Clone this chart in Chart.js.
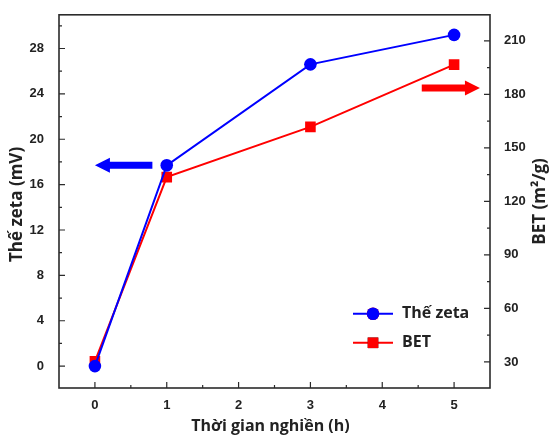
<!DOCTYPE html>
<html>
<head>
<meta charset="utf-8">
<script src="https://cdn.jsdelivr.net/npm/chart.js@4/dist/chart.umd.min.js"></script>
<style>
  html, body { margin: 0; padding: 0; background: #fff; }
  #wrap { width: 554px; height: 436px; position: relative; }
</style>
</head>
<body>
<div id="wrap"><canvas id="zetaChart"></canvas></div>
<script>
// data
const hours = [0, 1, 3, 5];
const zetaValues = [0, 17.7, 26.6, 29.2];
const betValues = [30.4, 133.6, 161.8, 196.7];
const seriesNames = ['Thế zeta', 'BET'];

const xTicks = [0, 1, 2, 3, 4, 5];
const zetaTicks = [0, 4, 8, 12, 16, 20, 24, 28];
const betTicks = [30, 60, 90, 120, 150, 180, 210];

// arrows pointing to the axis of each series (data units)
const zetaArrowX = [0.8, 0.0];
const zetaArrowY = 17.7;
const betArrowX = [4.55, 5.36];
const betArrowY = 183.5;

const BLUE = '#0000ff';
const RED = '#ff0000';
const INK = '#2b2b2b';
const titleFont = 'bold 16px "Open Sans", sans-serif';
const yTitleFont = 'bold 17px "Open Sans", sans-serif';

function drawArrow(ctx, x0, x1, y, color) {
    const s = x1 > x0 ? 1 : -1;
    const hx = x1 - s * 15;
    ctx.beginPath();
    ctx.moveTo(x0, y - 3.5);
    ctx.lineTo(hx, y - 3.5);
    ctx.lineTo(hx, y - 7.5);
    ctx.lineTo(x1, y);
    ctx.lineTo(hx, y + 7.5);
    ctx.lineTo(hx, y + 3.5);
    ctx.lineTo(x0, y + 3.5);
    ctx.closePath();
    ctx.fillStyle = color;
    ctx.fill();
}

const extras = {
    id: 'extras',
    afterDraw(chart) {
        const ctx = chart.ctx;
        const a = chart.chartArea;
        const sx = chart.scales.x, yl = chart.scales.yZeta, yr = chart.scales.yBet;
        ctx.save();

        // frame
        ctx.strokeStyle = INK;
        ctx.lineWidth = 1.6;
        ctx.strokeRect(a.left, a.top, a.right - a.left, a.bottom - a.top);

        // inward ticks, major + minor
        ctx.lineWidth = 1.2;
        ctx.beginPath();
        xTicks.forEach(v => {
            const px = sx.getPixelForValue(v);
            ctx.moveTo(px, a.bottom); ctx.lineTo(px, a.bottom - 6);
            const mx = sx.getPixelForValue(v + 0.5);
            if (v + 0.5 < sx.max) { ctx.moveTo(mx, a.bottom); ctx.lineTo(mx, a.bottom - 3); }
        });
        zetaTicks.forEach(v => {
            const py = yl.getPixelForValue(v);
            ctx.moveTo(a.left, py); ctx.lineTo(a.left + 6, py);
            const my = yl.getPixelForValue(v + 2);
            if (v + 2 < yl.max) { ctx.moveTo(a.left, my); ctx.lineTo(a.left + 3, my); }
        });
        betTicks.forEach(v => {
            const py = yr.getPixelForValue(v);
            ctx.moveTo(a.right, py); ctx.lineTo(a.right - 6, py);
            const my = yr.getPixelForValue(v - 15);
            if (v - 15 > yr.min) { ctx.moveTo(a.right, my); ctx.lineTo(a.right - 3, my); }
        });
        ctx.stroke();

        // arrows
        drawArrow(ctx, sx.getPixelForValue(zetaArrowX[0]), sx.getPixelForValue(zetaArrowX[1]),
                  yl.getPixelForValue(zetaArrowY), BLUE);
        drawArrow(ctx, sx.getPixelForValue(betArrowX[0]), sx.getPixelForValue(betArrowX[1]),
                  yr.getPixelForValue(betArrowY), RED);

        // legend
        const lx = a.right - 137, ly = [a.top + 299, a.top + 328];
        chart.data.datasets.forEach((ds, i) => {
            ctx.strokeStyle = ds.borderColor;
            ctx.lineWidth = 2;
            ctx.beginPath();
            ctx.moveTo(lx, ly[i]); ctx.lineTo(lx + 40, ly[i]);
            ctx.stroke();
            Chart.helpers.drawPoint(ctx, {
                pointStyle: ds.pointStyle, radius: ds.pointRadius, borderWidth: 0
            }, lx + 20, ly[i]);
            ctx.fillStyle = ds.borderColor;
            ctx.fill();
            ctx.fillStyle = '#222';
            ctx.font = titleFont;
            ctx.textAlign = 'left';
            ctx.textBaseline = 'middle';
            ctx.fillText(ds.label, lx + 49, ly[i]);
        });

        // axis titles
        ctx.fillStyle = '#222';
        ctx.font = titleFont;
        ctx.textAlign = 'center';
        ctx.textBaseline = 'middle';
        ctx.fillText('Thời gian nghiền (h)', (a.left + a.right) / 2 - 4, a.bottom + 38);
        const cy = (a.top + a.bottom) / 2;
        ctx.font = yTitleFont;
        ctx.save();
        ctx.translate(17, cy + 3);
        ctx.rotate(-Math.PI / 2);
        ctx.fillText('Thế zeta (mV)', 0, 0);
        ctx.restore();
        ctx.save();
        ctx.translate(540, cy);
        ctx.rotate(-Math.PI / 2);
        ctx.fillText('BET (m²/g)', 0, 0);
        ctx.restore();

        ctx.restore();
    }
};

const tickFont = { family: '"Liberation Sans", Arial, sans-serif', size: 13, weight: 'bold' };

new Chart(document.getElementById('zetaChart'), {
    type: 'line',
    data: {
        datasets: [{
            label: seriesNames[0],
            data: hours.map((h, i) => ({ x: h, y: zetaValues[i] })),
            yAxisID: 'yZeta',
            borderColor: BLUE,
            backgroundColor: BLUE,
            borderWidth: 2,
            pointStyle: 'circle',
            pointRadius: 6.3,
            pointBorderWidth: 0,
            tension: 0
        }, {
            label: seriesNames[1],
            data: hours.map((h, i) => ({ x: h, y: betValues[i] })),
            yAxisID: 'yBet',
            borderColor: RED,
            backgroundColor: RED,
            borderWidth: 2,
            pointStyle: 'rect',
            pointRadius: 7.5,
            pointBorderWidth: 0,
            tension: 0
        }]
    },
    options: {
        responsive: true,
        maintainAspectRatio: false,
        animation: false,
        layout: { padding: { top: 12, left: 0, right: 0, bottom: 0 } },
        plugins: { legend: { display: false }, tooltip: { enabled: false } },
        scales: {
            x: {
                type: 'linear',
                min: -0.5, max: 5.5,
                grid: { display: false }, border: { display: false },
                afterBuildTicks: s => { s.ticks = xTicks.map(v => ({ value: v })); },
                afterFit: s => { s.height = 48; },
                ticks: { font: tickFont, color: '#222', padding: 2, maxRotation: 0 }
            },
            yZeta: {
                type: 'linear', position: 'left',
                min: -1.93, max: 30.97,
                grid: { display: false }, border: { display: false },
                afterBuildTicks: s => { s.ticks = zetaTicks.map(v => ({ value: v })); },
                afterFit: s => { s.width = 59; },
                ticks: { font: tickFont, color: '#222', padding: 7 }
            },
            yBet: {
                type: 'linear', position: 'right',
                min: 15.4, max: 224.6,
                grid: { display: false }, border: { display: false },
                afterBuildTicks: s => { s.ticks = betTicks.map(v => ({ value: v })); },
                afterFit: s => { s.width = 64; },
                ticks: { font: tickFont, color: '#222', padding: 6 }
            }
        }
    },
    plugins: [extras]
});
</script>
</body>
</html>
